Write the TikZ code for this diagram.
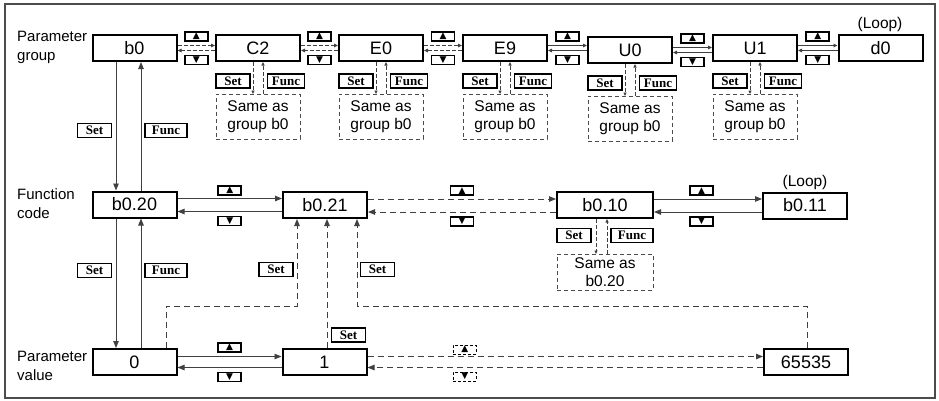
\documentclass[tikz,border=0pt]{standalone}
\usepackage{fontspec}
\setmainfont{Liberation Sans}
\newfontfamily\keyfont{Liberation Serif}
\newfontfamily\symfont{DejaVu Sans}
\usetikzlibrary{arrows.meta,positioning}

\tikzset{
  pbox/.style={draw=black, solid, line width=2pt, minimum width=84pt, minimum height=26pt,
    inner sep=0pt, font=\fontsize{18}{18}\selectfont},
  samebox/.style={draw=black!70, dash pattern=on 4pt off 3pt, line width=0.8pt,
    minimum width=84pt, minimum height=45pt, inner sep=0pt, align=center,
    font=\fontsize{15.5}{18}\selectfont},
  keybase/.style={draw=black, solid, line width=1.8pt, minimum height=14pt, inner sep=0pt,
    font=\keyfont\bfseries\fontsize{13}{13}\selectfont},
  setbox/.style={keybase, minimum width=34pt},
  funcbox/.style={keybase, minimum width=37pt},
  updown/.style={draw=black, solid, line width=1.6pt, minimum width=23pt, minimum height=9pt,
    inner sep=0pt, font=\symfont\fontsize{9}{9}\selectfont},
  dupdown/.style={updown, line width=0.9pt, dash pattern=on 3pt off 2pt},
  conn/.style={draw=black!75, line width=0.9pt, -{Triangle[length=7pt,width=5.5pt]}},
  dconn/.style={conn, dash pattern=on 6pt off 4pt},
  gconn/.style={draw=black!75, line width=0.9pt, -{Triangle[length=4pt,width=3.5pt]}},
  dgconn/.style={gconn, dash pattern=on 4pt off 2pt},
  subconn/.style={draw=black!75, line width=0.8pt, dash pattern=on 4pt off 2pt,
    -{Triangle[length=3.5pt,width=3pt]}},
  lbl/.style={align=left, anchor=west, inner sep=0pt, font=\fontsize{15}{19}\selectfont},
  loopl/.style={font=\fontsize{15.5}{15.5}\selectfont},
}

\begin{document}
\begin{tikzpicture}[x=1pt, y=-1pt]
    \useasboundingbox (0,0) rectangle (939,400);
    % Рамка
    \draw[black!70, line width=1.2pt] (5,4) rectangle (935,398);

    % Подписи слева
    \node[lbl] (lgroup) at (17,47) {Parameter\\group};
    \node[lbl] (lcode) at (17,204) {Function\\code};
    \node[lbl] (lvalue) at (17,366) {Parameter\\value};

    % Группы параметров
    \node[pbox] (b0) at (134.5,48) {b0};
    \node[pbox] (C2) at (258,48) {C2};
    \node[pbox] (E0) at (381,48) {E0};
    \node[pbox] (E9) at (505,48) {E9};
    \node[pbox] (U0) at (630,50) {U0};
    \node[pbox] (U1) at (755,48) {U1};
    \node[pbox] (d0) at (880.5,48) {d0};
    \node[loopl] (loopg) at (880,24) {(Loop)};

    % Коды функций
    \node[pbox] (f20) at (134.5,204.5) {b0.20};
    \node[pbox] (f21) at (325,205) {b0.21};
    \node[pbox, minimum width=96pt] (f10) at (605,205) {b0.10};
    \node[pbox] (f11) at (805,205.5) {b0.11};
    \node[loopl] (loopf) at (805,182) {(Loop)};

    % Значения параметра
    \node[pbox] (v0) at (134.5,362) {0};
    \node[pbox] (v1) at (324.5,362) {1};
    \node[pbox] (v65535) at (806,362) {65535};

    % Переходы между группами
    \foreach \a/\b/\s in {b0/C2/dgconn, C2/E0/dgconn, E0/E9/dgconn,
                          E9/U0/gconn, U0/U1/gconn, U1/d0/gconn} {
        \draw[\s] ([yshift=2.5pt]\a.east) -- ([yshift=2.5pt]\a.east -| \b.west)
            node[updown, midway, above=4pt] (up\a) {▲};
        \draw[\s] ([yshift=-2.5pt]\a.east -| \b.west) -- ([yshift=-2.5pt]\a.east)
            node[updown, midway, below=4pt] (dn\a) {▼};
    }

    % Вложенные группы
    \foreach \g in {C2,E0,E9,U0,U1} {
        \node[samebox, below=32pt of \g] (s\g) {Same as\\group b0};
        \node[setbox] (set\g) at ([xshift=-25pt,yshift=-19pt]\g.south) {Set};
        \node[funcbox] (func\g) at ([xshift=28pt,yshift=-19pt]\g.south) {Func};
        \draw[subconn] ([xshift=-5pt]\g.south) -- ([xshift=-5pt]s\g.north);
        \draw[subconn] ([xshift=5pt]s\g.north) -- ([xshift=5pt]\g.south);
    }

    % b0 <-> b0.20
    \draw[conn] ([xshift=-18.5pt]b0.south) -- ([xshift=-18.5pt]f20.north);
    \draw[conn] ([xshift=6.5pt]f20.north) -- ([xshift=6.5pt]b0.south);
    \node[setbox] (setb0) at (94.5,130.5) {Set};
    \node[funcbox, minimum width=42pt] (funcb0) at (166,130.5) {Func};

    % Переходы между кодами
    \draw[conn] ([yshift=6pt]f20.east) -- ([yshift=6pt]f20.east -| f21.west)
        node[updown, midway, above=3pt] (upf20) {▲};
    \draw[conn] ([yshift=-7pt]f20.east -| f21.west) -- ([yshift=-7pt]f20.east)
        node[updown, midway, below=4pt] (dnf20) {▼};
    \draw[dconn] ([yshift=6pt]f21.east) -- ([yshift=6pt]f21.east -| f10.west)
        node[updown, midway, above=3pt] (upf21) {▲};
    \draw[dconn] ([yshift=-7pt]f21.east -| f10.west) -- ([yshift=-7pt]f21.east)
        node[updown, midway, below=4pt] (dnf21) {▼};
    \draw[conn] ([yshift=6pt]f10.east) -- ([yshift=6pt]f10.east -| f11.west)
        node[updown, pos=0.44, above=3pt] (upf10) {▲};
    \draw[conn] ([yshift=-7pt]f10.east -| f11.west) -- ([yshift=-7pt]f10.east)
        node[updown, pos=0.56, below=4pt] (dnf10) {▼};

    % b0.10 -> Same as b0.20
    \node[samebox, minimum width=96pt, minimum height=36pt, below=35pt of f10] (sf10) {Same as\\b0.20};
    \node[setbox] (setf10) at (574,235.5) {Set};
    \node[funcbox, minimum width=42pt] (funcf10) at (632,235.5) {Func};
    \draw[subconn] ([xshift=-9pt]f10.south) -- ([xshift=-9pt]f10.south |- sf10.north);
    \draw[subconn] ([xshift=2pt]f10.south |- sf10.north) -- ([xshift=2pt]f10.south);

    % b0.20 <-> 0
    \draw[conn] ([xshift=-18.5pt]f20.south) -- ([xshift=-18.5pt]v0.north);
    \draw[conn] ([xshift=6.5pt]v0.north) -- ([xshift=6.5pt]f20.south);
    \node[setbox] (setf20) at (94.5,270.5) {Set};
    \node[funcbox, minimum width=42pt] (funcf20) at (166,270.5) {Func};

    % Переходы между значениями
    \draw[conn] ([yshift=5.5pt]v0.east) -- ([yshift=5.5pt]v0.east -| v1.west)
        node[updown, midway, above=4pt] (upv0) {▲};
    \draw[conn] ([yshift=-5.5pt]v0.east -| v1.west) -- ([yshift=-5.5pt]v0.east)
        node[updown, midway, below=4pt] (dnv0) {▼};
    \draw[dconn] ([yshift=5.5pt]v1.east) -- ([yshift=5.5pt]v1.east -| v65535.west)
        node[dupdown, pos=0.246, above=2pt] (upv1) {▲};
    \draw[dconn] ([yshift=-5.5pt]v1.east -| v65535.west) -- ([yshift=-5.5pt]v1.east)
        node[dupdown, pos=0.754, below=4pt] (dnv1) {▼};

    % Возврат к b0.21
    \draw[dconn] ([xshift=31.5pt]v0.north) -- ++(0,-42) -| ([xshift=-28pt]f21.south);
    \draw[dconn] ([xshift=2.5pt]v1.north) -- ([xshift=2.5pt]v1.north |- f21.south);
    \draw[dconn] ([xshift=1pt]v65535.north) -- ++(0,-42) -| ([xshift=32pt]f21.south);
    \node[setbox] (setr0) at (276,269.5) {Set};
    \node[setbox] (setr1) at (348.5,335) {Set};
    \node[setbox] (setr2) at (377.5,269.5) {Set};
\end{tikzpicture}
\end{document}
